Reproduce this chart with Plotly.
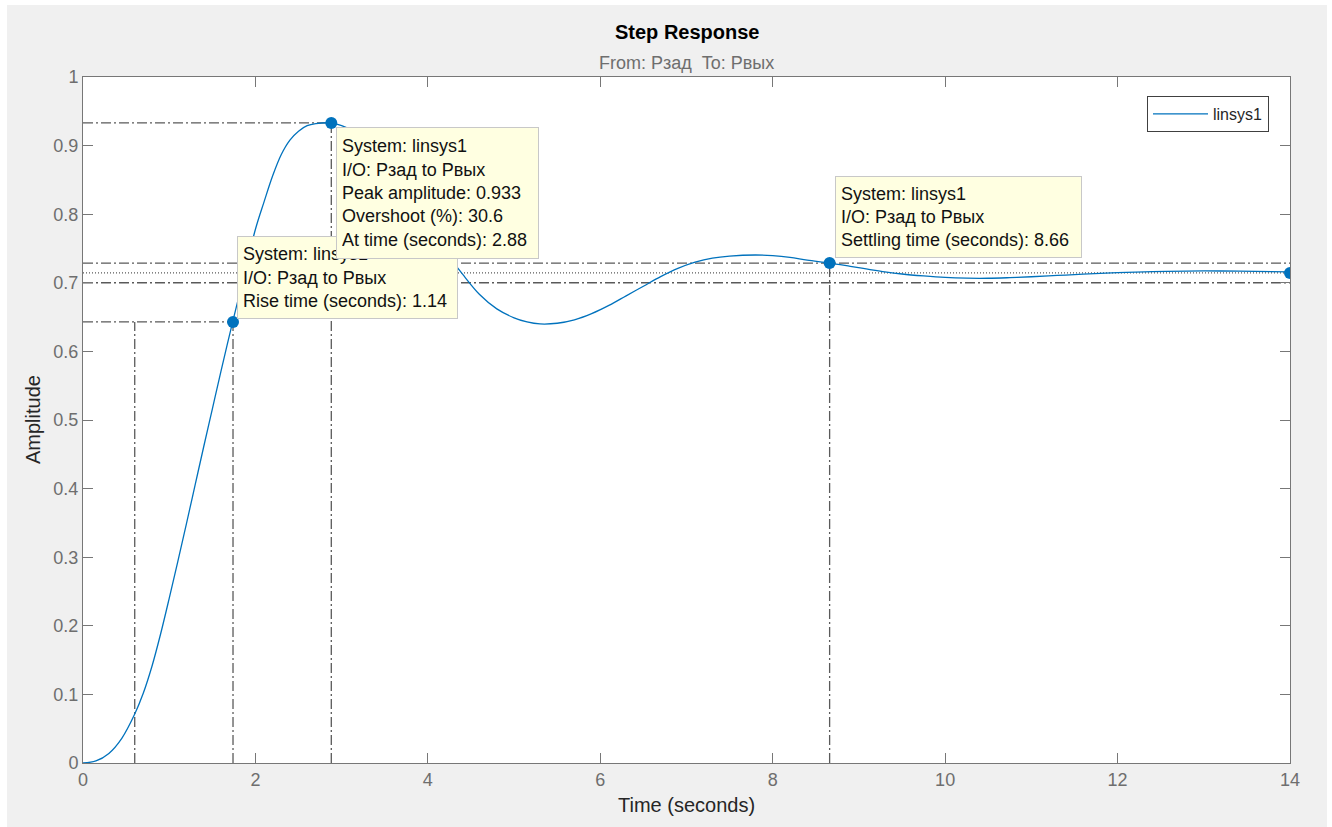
import plotly.graph_objects as go

# ---------------- data ----------------
time_s = [0, 0.15, 0.3, 0.45, 0.6, 0.7, 0.8, 0.9, 1.0, 1.1, 1.2, 1.3, 1.4, 1.5, 1.6,
          1.736, 1.85, 2.0, 2.1, 2.2, 2.3, 2.4, 2.5, 2.6, 2.7, 2.88, 3.0, 3.1, 3.25,
          3.4, 3.55, 3.7, 3.85, 4.0, 4.2, 4.4, 4.6, 4.8, 5.0, 5.15, 5.3, 5.5, 5.7,
          5.9, 6.1, 6.3, 6.5, 6.7, 6.9, 7.1, 7.3, 7.5, 7.8, 8.0, 8.2, 8.4, 8.66,
          8.9, 9.1, 9.3, 9.5, 9.75, 10.0, 10.25, 10.5, 10.75, 11.0, 11.3, 11.6,
          12.0, 12.4, 12.8, 13.2, 13.6, 14.0]
amplitude = [0, 0.003, 0.014, 0.036, 0.0714, 0.102, 0.141, 0.188, 0.240, 0.294,
             0.349, 0.405, 0.461, 0.516, 0.571, 0.643, 0.701, 0.778, 0.818, 0.856,
             0.887, 0.908, 0.921, 0.929, 0.932, 0.933, 0.929, 0.923, 0.910, 0.891,
             0.866, 0.839, 0.810, 0.781, 0.746, 0.713, 0.683, 0.662, 0.649, 0.643,
             0.640, 0.641, 0.646, 0.655, 0.667, 0.681, 0.695, 0.709, 0.721, 0.730,
             0.736, 0.739, 0.7405, 0.7395, 0.737, 0.733, 0.7287, 0.724, 0.720,
             0.716, 0.7128, 0.710, 0.7078, 0.7067, 0.7066, 0.7075, 0.7088, 0.7107,
             0.7126, 0.7148, 0.7163, 0.7171, 0.7172, 0.7166, 0.7158]

# characteristics
final_value = 0.7144
rise_t10, rise_t90 = 0.60, 1.74
rise_y90 = 0.643
rise_time = 1.14
peak_time, peak_amp, overshoot = 2.88, 0.933, 30.6
settle_time, settle_amp = 8.66, 0.7287
band_hi, band_lo = 0.7287, 0.7001
t_end = 14

x_ticks = [0, 2, 4, 6, 8, 10, 12, 14]
y_ticks = [0, 0.1, 0.2, 0.3, 0.4, 0.5, 0.6, 0.7, 0.8, 0.9, 1]

FONT = "Liberation Sans, Arial, Helvetica, sans-serif"
BLUE = "#0072BD"
REF = "#5a5a5a"
AX = "#777777"

# pixel geometry of the plot area
L, R, T, B = 83, 1290, 77, 763
W, H = 1332, 827
pw, ph = R - L, B - T


def px(xp):
    return (xp - L) / pw


def py(yp):
    return (B - yp) / ph


fig = go.Figure()

fig.add_trace(go.Scatter(
    x=time_s, y=amplitude, mode="lines", name="linsys1",
    line=dict(color=BLUE, width=1.3, shape="spline", smoothing=1.0),
    hoverinfo="skip"))

fig.add_trace(go.Scatter(
    x=[rise_t90, peak_time, settle_time, t_end],
    y=[rise_y90, peak_amp, settle_amp, final_value],
    mode="markers", showlegend=False, hoverinfo="skip",
    marker=dict(color=BLUE, size=12)))

dashdot = "10px,3px,2px,3px"
shapes = []


def ref_line(x0, y0, x1, y1, dash=dashdot):
    shapes.append(dict(type="line", xref="x", yref="y", x0=x0, y0=y0, x1=x1, y1=y1,
                       line=dict(color=REF, width=1.3, dash=dash), layer="below"))


# rise time
ref_line(rise_t10, 0, rise_t10, rise_y90)
ref_line(rise_t90, 0, rise_t90, rise_y90)
ref_line(0, rise_y90, rise_t90, rise_y90)
# peak
ref_line(0, peak_amp, peak_time, peak_amp)
ref_line(peak_time, 0, peak_time, peak_amp)
# settling
ref_line(settle_time, 0, settle_time, settle_amp)
ref_line(0, band_hi, t_end, band_hi)
ref_line(0, band_lo, t_end, band_lo)
ref_line(0, final_value, t_end, final_value, dash="1px,2px")

# white outer border of the window
for x0, x1, y0, y1 in [(0, 7, 0, H), (0, W, 0, 5), (1327, W, 0, H)]:
    shapes.append(dict(type="rect", xref="paper", yref="paper",
                       x0=px(x0), x1=px(x1), y0=py(y1), y1=py(y0),
                       fillcolor="white", line=dict(width=0), layer="above"))

tip_font = dict(family=FONT, size=18, color="#111111")
tip = dict(xref="x", yref="y", showarrow=False, align="left", valign="middle",
           font=tip_font, bgcolor="#ffffe1", bordercolor="#c8c8c8", borderwidth=1,
           borderpad=5, xanchor="left")

annotations = [
    dict(text="System: linsys1<br>I/O: Рзад to Рвых<br>Rise time (seconds): %.2f" % rise_time,
         x=rise_t90, y=rise_y90, yanchor="bottom", xshift=4, yshift=3,
         width=209, height=71, **tip),
    dict(text=("System: linsys1<br>I/O: Рзад to Рвых<br>Peak amplitude: %.3f"
               "<br>Overshoot (%%): %.1f<br>At time (seconds): %.2f") % (peak_amp, overshoot, peak_time),
         x=peak_time, y=peak_amp, yanchor="top", xshift=5, yshift=-4,
         width=191, height=120, **tip),
    dict(text="System: linsys1<br>I/O: Рзад to Рвых<br>Settling time (seconds): %.2f" % settle_time,
         x=settle_time, y=settle_amp, yanchor="bottom", xshift=5, yshift=5,
         width=235, height=70, **tip),
    # titles
    dict(text="<b>Step Response</b>", xref="paper", yref="paper", x=0.5, y=py(32),
         xanchor="center", yanchor="middle", showarrow=False,
         font=dict(family=FONT, size=20, color="#000000")),
    dict(text="From: Рзад\u00a0\u00a0To: Рвых", xref="paper", yref="paper", x=0.5, y=py(63),
         xanchor="center", yanchor="middle", showarrow=False,
         font=dict(family=FONT, size=18, color="#6e6e6e")),
    dict(text="Time (seconds)", xref="paper", yref="paper", x=0.5, y=py(805),
         xanchor="center", yanchor="middle", showarrow=False,
         font=dict(family=FONT, size=20, color="#262626")),
    dict(text="Amplitude", xref="paper", yref="paper", x=px(33), y=0.5, textangle=-90,
         xanchor="center", yanchor="middle", showarrow=False,
         font=dict(family=FONT, size=20, color="#262626")),
]

axis_common = dict(showgrid=False, zeroline=False, showline=True, linecolor=AX,
                   linewidth=1, mirror="ticks", ticks="inside", ticklen=10,
                   tickcolor=AX, tickwidth=1,
                   tickfont=dict(family=FONT, size=18, color="#6e6e6e"))

fig.update_layout(
    width=W, height=H,
    margin=dict(l=L, r=W - R, t=T, b=H - B, pad=0),
    paper_bgcolor="#f0f0f0", plot_bgcolor="white",
    xaxis=dict(range=[0, 14], tickvals=x_ticks, ticktext=[str(v) for v in x_ticks], **axis_common),
    yaxis=dict(range=[0, 1], tickvals=y_ticks, ticktext=["%g" % v for v in y_ticks], **axis_common),
    showlegend=True,
    legend=dict(x=px(1269), y=py(96), xanchor="right", yanchor="top",
                bgcolor="white", bordercolor="#404040", borderwidth=1,
                font=dict(family=FONT, size=16, color="#262626"), itemwidth=55),
    shapes=shapes, annotations=annotations,
)

fig.write_html("out.html")
